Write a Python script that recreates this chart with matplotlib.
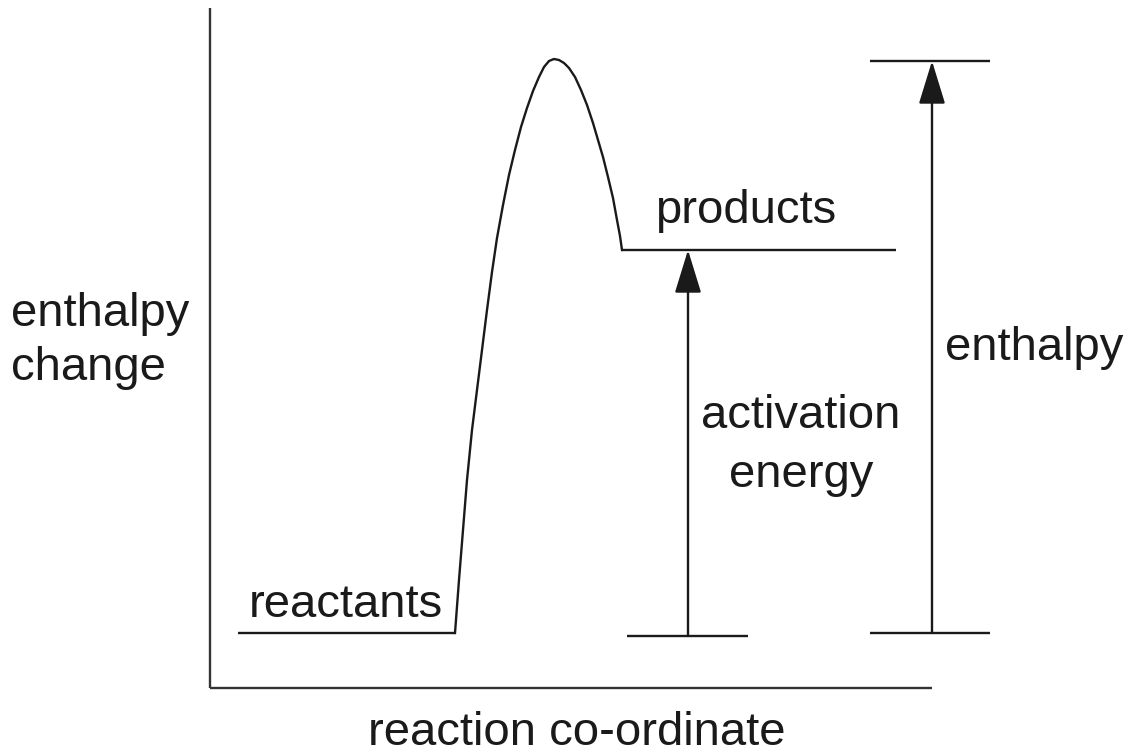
"""Enthalpy profile diagram (reaction co-ordinate sketch)."""

import matplotlib

matplotlib.use("Agg")
import matplotlib.pyplot as plt  # noqa: E402
from matplotlib.patches import ArrowStyle, FancyArrowPatch  # noqa: E402

# canvas units are pixels of the 1134x753 picture, y growing downwards
W, H = 1134, 753

# energy levels
reactants_y = 633
products_y = 250
top_y = 61

# barrier curve (x, y)
curve_x = [455, 459, 463, 467, 472, 477, 482, 487, 492, 497, 503, 509, 515, 521, 527, 533, 539,
           544, 549, 554, 559, 564, 569, 575, 581, 587, 593, 598, 603, 608, 613, 617, 620, 622]
curve_y = [633, 580, 530, 480, 430, 390, 350, 310, 272, 238, 205, 175, 150, 127, 108, 91, 77,
           67, 61, 59, 60, 63, 68, 77, 90, 105, 123, 140, 157, 177, 198, 220, 236, 250]

# horizontal level lines: (x0, x1, y)
levels = [
    (238, 455, reactants_y),   # reactants
    (622, 896, products_y),    # products
    (627, 748, 636),           # activation base
    (870, 990, reactants_y),   # enthalpy base
    (870, 990, top_y),         # enthalpy top
]

# vertical arrows: (x, y_from, y_to)
arrows = [
    (688, 636, products_y),
    (932, reactants_y, top_y),
]

# axes frame
yaxis = (210, 8, 688)
xaxis = (688, 210, 932)

labels = [
    ("reactants", 249, 617, "left"),
    ("products", 655, 223, "left"),
    ("enthalpy", 11, 326, "left"),
    ("change", 11, 380, "left"),
    ("activation", 801, 428, "center"),
    ("energy", 801, 487, "center"),
    ("enthalpy", 945, 360, "left"),
    ("reaction co-ordinate", 577, 745, "center"),
]

plt.rcParams["font.family"] = ["Liberation Sans", "DejaVu Sans"]

fig = plt.figure(figsize=(W / 100, H / 100), dpi=100)
ax = fig.add_axes([0, 0, 1, 1])
ax.set_xlim(0, W)
ax.set_ylim(H, 0)
ax.axis("off")

lw = 1.7
ax.plot([yaxis[0], yaxis[0]], [yaxis[1], yaxis[2]], color="#333333", lw=lw, solid_capstyle="butt")
ax.plot([xaxis[1], xaxis[2]], [xaxis[0], xaxis[0]], color="#333333", lw=lw, solid_capstyle="butt")

ax.plot(curve_x, curve_y, color="#1a1a1a", lw=lw, solid_joinstyle="round")
for x0, x1, y in levels:
    ax.plot([x0, x1], [y, y], color="#1a1a1a", lw=lw, solid_capstyle="butt")

head = ArrowStyle("-|>", head_length=27, head_width=8.3)
for x, y0, y1 in arrows:
    ax.add_patch(
        FancyArrowPatch(
            (x, y0), (x, y1),
            arrowstyle=head, mutation_scale=1,
            color="#1a1a1a", lw=lw, shrinkA=0, shrinkB=0,
        )
    )

for text, x, y, ha in labels:
    ax.text(x, y, text, fontsize=34, ha=ha, va="baseline", color="#1a1a1a")

fig.savefig("out.png", dpi=100)
plt.close(fig)
